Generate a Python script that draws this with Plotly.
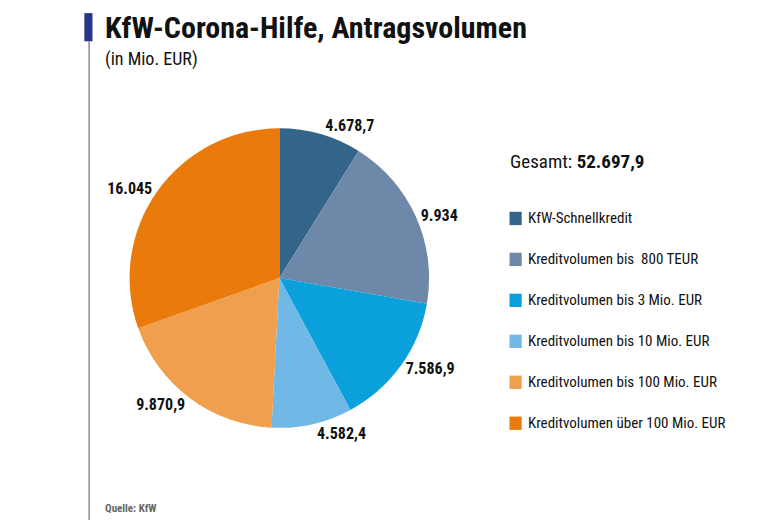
import plotly.graph_objects as go

categories = ["KfW-Schnellkredit", "Kreditvolumen bis  800 TEUR", "Kreditvolumen bis 3 Mio. EUR",
              "Kreditvolumen bis 10 Mio. EUR", "Kreditvolumen bis 100 Mio. EUR",
              "Kreditvolumen über 100 Mio. EUR"]
values = [4678.7, 9934, 7586.9, 4582.4, 9870.9, 16045]
total_label = "52.697,9"
colors = ["#33658a", "#6d88a8", "#0aa0dc", "#70b8e6", "#f09f4e", "#ea7a0c"]

FONT = "Liberation Sans Narrow, Roboto Condensed, Arial Narrow, sans-serif"


def de_fmt(v):
    if v == int(v):
        s = f"{int(v):,}"
    else:
        s = f"{v:,.1f}"
    return s.replace(",", "X").replace(".", ",").replace("X", ".")


fig = go.Figure(go.Pie(
    labels=categories, values=values, text=[f"<b>{de_fmt(v)}</b>" for v in values],
    textinfo="text", textposition="outside", sort=False, direction="clockwise",
    rotation=0, marker=dict(colors=colors, line=dict(width=0)),
    textfont=dict(family=FONT, size=16, color="#111"),
    domain=dict(x=[0.0, 0.58], y=[0.18, 0.765]), showlegend=False,
))

shapes = [
    dict(type="rect", xref="paper", yref="paper", x0=0.002, x1=0.014, y0=0.935, y1=0.99,
         fillcolor="#28348a", line_width=0),
    dict(type="line", xref="paper", yref="paper", x0=0.009, x1=0.009, y0=0.0, y1=0.935,
         line=dict(color="#555", width=1)),
]
annotations = [
    dict(text="<b>KfW-Corona-Hilfe, Antragsvolumen</b>", x=0.03, y=1.0, xref="paper", yref="paper",
         xanchor="left", yanchor="top", showarrow=False, font=dict(family=FONT, size=30, color="#111")),
    dict(text="(in Mio. EUR)", x=0.03, y=0.925, xref="paper", yref="paper",
         xanchor="left", yanchor="top", showarrow=False, font=dict(family=FONT, size=18, color="#111")),
    dict(text="<b>Quelle: KfW</b>", x=0.03, y=0.005, xref="paper", yref="paper",
         xanchor="left", yanchor="bottom", showarrow=False, font=dict(family=FONT, size=11, color="#666")),
    dict(text=f"Gesamt: <b>{total_label}</b>", x=0.628, y=0.70, xref="paper", yref="paper",
         xanchor="left", yanchor="middle", showarrow=False, font=dict(family=FONT, size=19, color="#111")),
]
for i, (name, c) in enumerate(zip(categories, colors)):
    y = 0.589 - i * 0.08
    shapes.append(dict(type="rect", xref="paper", yref="paper", x0=0.630, x1=0.648,
                       y0=y - 0.013, y1=y + 0.013, fillcolor=c, line_width=0))
    annotations.append(dict(text=name, x=0.655, y=y, xref="paper", yref="paper", xanchor="left",
                            yanchor="middle", showarrow=False, font=dict(family=FONT, size=15, color="#111")))

fig.update_layout(autosize=True, margin=dict(l=0, r=0, t=0, b=0),
                  paper_bgcolor="white", shapes=shapes, annotations=annotations)
fig.write_html("out.html", default_width="100%", default_height="100%")
